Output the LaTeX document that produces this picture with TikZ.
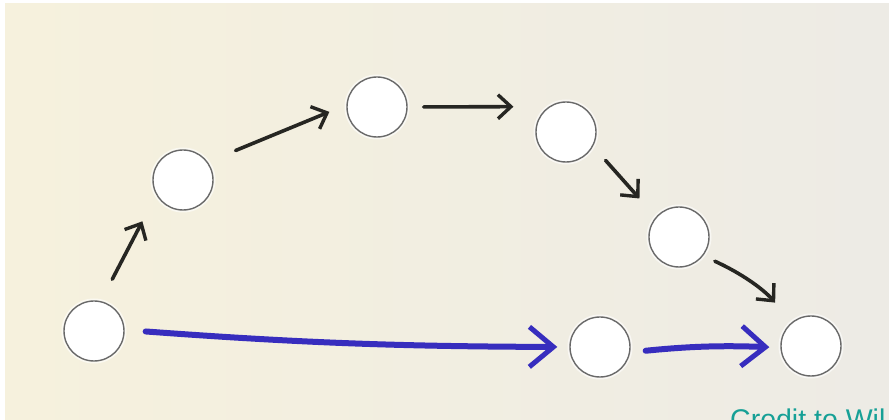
\documentclass[tikz,border=0pt]{standalone}
\usepackage{fontspec}
\setsansfont{Liberation Sans}
\usepackage{xcolor}
\usepackage{tikz}
\usetikzlibrary{positioning}
\usetikzlibrary{arrows.meta}

\definecolor{paperleft}{RGB}{246,241,221}
\definecolor{paperright}{RGB}{237,235,229}
\definecolor{penblue}{RGB}{55,45,190}
\definecolor{penblack}{RGB}{38,38,34}
\definecolor{ringgray}{RGB}{105,105,105}
\definecolor{creditteal}{RGB}{22,160,150}

\begin{document}
\begin{tikzpicture}[x=1pt, y=1pt,
  vertex/.style={circle, draw=ringgray, line width=1.4pt, fill=white, minimum size=60pt, inner sep=0pt,
     preaction={draw=white, line width=5pt, opacity=0.6}},
  blackedge/.style={draw=penblack, line width=3.6pt, line cap=round,
     -{Straight Barb[length=13pt,width=24pt,line width=3.4pt]}},
  blueedge/.style={draw=penblue, line width=6pt, line cap=round,
     -{Straight Barb[length=24pt,width=40pt,line width=5pt]}}]

 % paper
 \fill[white] (0,0) rectangle (889,420);
 \shade[left color=paperleft, right color=paperright] (5,0) rectangle (889,416);
 \useasboundingbox (0,0) rectangle (889,420);

 % vertices
 \foreach \name/\x/\y in { s/94/89, a/183/240, b/377/313, c/566/288, d/679/183, e/600/73, t/811/74 } {
        \node[vertex] (\name) at (\x,\y) {};
 }

 % long way round
 \draw[blackedge, shorten <=24.6pt, shorten >=29.8pt] (s.77) -- (a.209);
 \draw[blackedge, shorten <=30pt, shorten >=18.4pt] (a.36) -- (b.176);
 \draw[blackedge, shorten <=16pt, shorten >=35.4pt] (b.0) -- (c.124);
 \draw[blackedge, shorten <=18.7pt, shorten >=24.6pt] (c.332) -- (d.139);
 \draw[blackedge, shorten <=12.8pt, shorten >=25.6pt] (d.322) to[bend left=12] (t.128);

 % short way
 \draw[blueedge, shorten <=21pt, shorten >=12pt] (s.2) to[bend right=2] (e.180);
 \draw[blueedge, shorten <=15.5pt, shorten >=11pt] (e.350) to[bend left=4] (t.183);

 \node[anchor=base west, text=creditteal, font=\sffamily\fontsize{28.5}{30}\selectfont, inner sep=0pt] (credit) at (730,-10) {Credit to Wil};

\end{tikzpicture}
\end{document}
